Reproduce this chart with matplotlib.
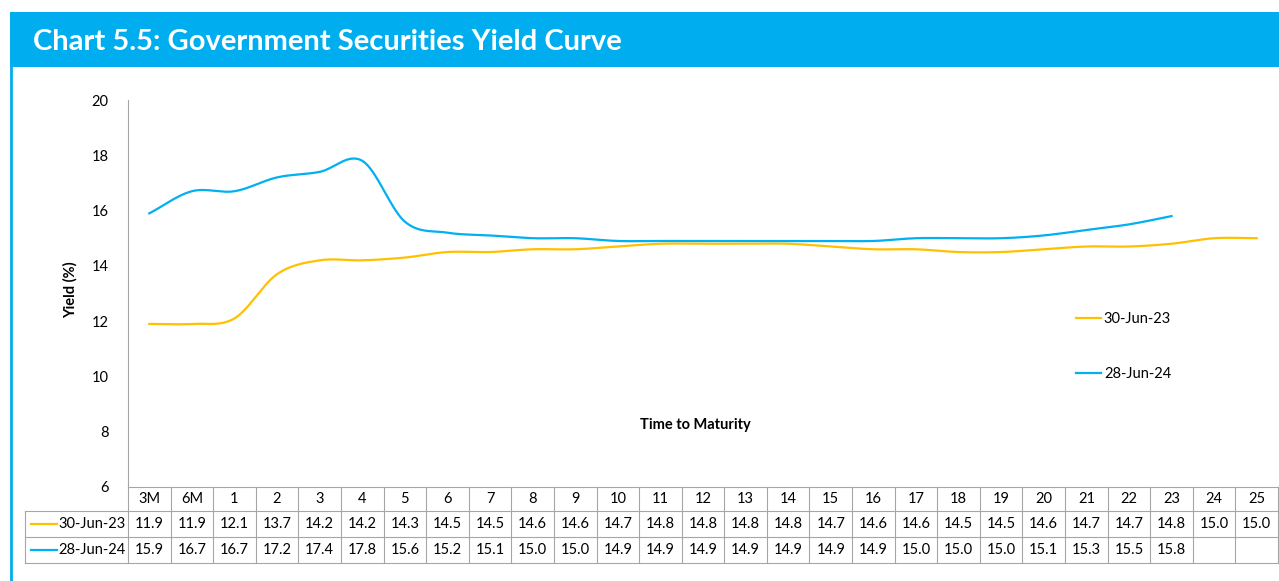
import numpy as np
import matplotlib
matplotlib.use("Agg")
import matplotlib.pyplot as plt
from matplotlib.patches import Rectangle
from matplotlib.lines import Line2D
import matplotlib.transforms as mtransforms

plt.rcParams['font.family'] = ['Lato', 'DejaVu Sans']

maturities = ["3M", "6M", "1", "2", "3", "4", "5", "6", "7", "8", "9", "10", "11", "12",
              "13", "14", "15", "16", "17", "18", "19", "20", "21", "22", "23", "24", "25"]
yield_2023 = [11.9, 11.9, 12.1, 13.7, 14.2, 14.2, 14.3, 14.5, 14.5, 14.6, 14.6, 14.7, 14.8, 14.8,
              14.8, 14.8, 14.7, 14.6, 14.6, 14.5, 14.5, 14.6, 14.7, 14.7, 14.8, 15.0, 15.0]
yield_2024 = [15.9, 16.7, 16.7, 17.2, 17.4, 17.8, 15.6, 15.2, 15.1, 15.0, 15.0, 14.9, 14.9, 14.9,
              14.9, 14.9, 14.9, 14.9, 15.0, 15.0, 15.0, 15.1, 15.3, 15.5, 15.8]
series_names = ["30-Jun-23", "28-Jun-24"]
series_values = [yield_2023, yield_2024]
series_colors = ["#FFC000", "#00B0F0"]
yticks = [6, 8, 10, 12, 14, 16, 18, 20]

HEADER_BLUE = "#00AEEF"
GRID_GREY = "#A6A6A6"


def smooth(x, y, n=20):
    """Catmull-Rom spline through the points, like a smoothed line chart."""
    x = np.asarray(x, float)
    y = np.asarray(y, float)
    px = np.concatenate([[2 * x[0] - x[1]], x, [2 * x[-1] - x[-2]]])
    py = np.concatenate([[2 * y[0] - y[1]], y, [2 * y[-1] - y[-2]]])
    xs, ys = [], []
    for i in range(1, len(px) - 2):
        t = np.linspace(0, 1, n, endpoint=False)
        for arr, out in ((px, xs), (py, ys)):
            p0, p1, p2, p3 = arr[i - 1], arr[i], arr[i + 1], arr[i + 2]
            out.extend(0.5 * ((2 * p1) + (-p0 + p2) * t +
                              (2 * p0 - 5 * p1 + 4 * p2 - p3) * t ** 2 +
                              (-p0 + 3 * p1 - 3 * p2 + p3) * t ** 3))
    xs.append(x[-1])
    ys.append(y[-1])
    return np.array(xs), np.array(ys)


W, H = 1279, 581
fig = plt.figure(figsize=(W / 100, H / 100), dpi=100)


def fx(px):
    return px / W


def fy(py):
    return 1 - py / H


# Header band and left border
fig.patches.append(Rectangle((fx(10), fy(67)), fx(1269), 55 / H, transform=fig.transFigure,
                             facecolor=HEADER_BLUE, edgecolor="none", zorder=0))
fig.lines.append(Line2D([fx(11), fx(11)], [fy(67), fy(581)], transform=fig.transFigure,
                        color=HEADER_BLUE, lw=2))
fig.text(fx(33), fy(42), "Chart 5.5: Government Securities Yield Curve", color="white",
         fontsize=21, fontweight="bold", va="center", ha="left")

ax_left, ax_right, ax_top, ax_bottom = 128, 1278, 100, 487
ax = fig.add_axes([fx(ax_left), fy(ax_bottom), (ax_right - ax_left) / W, (ax_bottom - ax_top) / H])

n = len(maturities)
for vals, name, col in zip(series_values, series_names, series_colors):
    xs, ys = smooth(np.arange(len(vals)), vals)
    ax.plot(xs, ys, color=col, lw=1.6, label=name)

ax.set_xlim(-0.5, n - 0.5)
ax.set_ylim(6, 20)
ax.set_yticks(yticks)
ax.tick_params(axis="y", length=0, pad=14, labelsize=10.5)
ax.set_xticks([])
for s in ("top", "right", "bottom"):
    ax.spines[s].set_visible(False)
ax.spines["left"].set_color(GRID_GREY)
ax.spines["left"].set_linewidth(0.8)

fig.text(fx(70), fy(290), "Yield (%)", rotation=90, fontsize=10.5, fontweight="bold",
         ha="center", va="center")
fig.text(fx(695), fy(425), "Time to Maturity", fontsize=10.5, fontweight="bold",
         ha="center", va="center")

leg = ax.legend(loc="upper left", bbox_to_anchor=(fx(1063), fy(299)),
                bbox_transform=fig.transFigure, frameon=False, fontsize=10.5,
                handlelength=1.7, handletextpad=0.2, labelspacing=2.8)

# Data table under the plot
trans = mtransforms.blended_transform_factory(ax.transData, fig.transFigure)
rows_py = [487, 511, 537, 563]
lw = 0.8
# horizontal lines
fig.lines.append(Line2D([fx(ax_left), fx(ax_right)], [fy(487)] * 2, transform=fig.transFigure,
                        color=GRID_GREY, lw=lw))
for py in rows_py[1:]:
    fig.lines.append(Line2D([fx(25), fx(ax_right)], [fy(py)] * 2, transform=fig.transFigure,
                            color=GRID_GREY, lw=lw))
# vertical lines
fig.lines.append(Line2D([fx(25), fx(25)], [fy(511), fy(563)], transform=fig.transFigure,
                        color=GRID_GREY, lw=lw))
for i in range(n + 1):
    ax.add_line(Line2D([i - 0.5, i - 0.5], [fy(487), fy(563)], transform=trans,
                       color=GRID_GREY, lw=lw, clip_on=False))

for i, lab in enumerate(maturities):
    ax.text(i, fy(499), lab, transform=trans, ha="center", va="center", fontsize=10.5)
for r, (vals, name, col) in enumerate(zip(series_values, series_names, series_colors)):
    yc = fy((rows_py[r + 1] + rows_py[r + 2]) / 2)
    for i, v in enumerate(vals):
        ax.text(i, yc, f"{v:.1f}", transform=trans, ha="center", va="center", fontsize=10.5)
    fig.lines.append(Line2D([fx(31), fx(57)], [yc, yc], transform=fig.transFigure,
                            color=col, lw=1.6))
    fig.text(fx(58), yc, name, ha="left", va="center", fontsize=10.5)

fig.savefig("out.png", dpi=100)
